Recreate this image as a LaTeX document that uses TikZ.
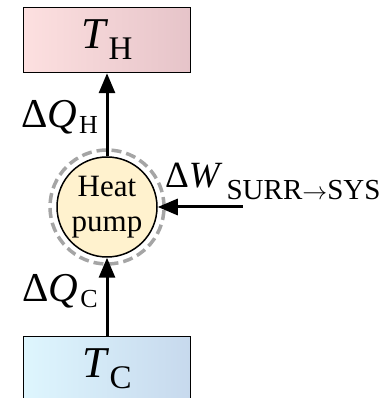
\documentclass[tikz,border=0pt]{standalone}
\usepackage{fontspec}
\setmainfont{Liberation Serif}
\usepackage{tikz}
\usetikzlibrary{arrows.meta, positioning}
\definecolor{hotleft}{RGB}{253, 224, 224}
\definecolor{hotright}{RGB}{230, 196, 201}
\definecolor{coldleft}{RGB}{222, 246, 254}
\definecolor{coldright}{RGB}{199, 217, 237}
\definecolor{pumpfill}{RGB}{255, 242, 206}
\definecolor{boundgray}{RGB}{165, 165, 165}
% lowered, smaller text after a symbol
\newcommand{\lowsub}[3]{\raisebox{-#1pt}{\fontsize{#2}{#2}\selectfont #3}}

\begin{document}
\begin{tikzpicture}[
        x=1pt, y=1pt,
        reservoir/.style={rectangle, draw=black, line width=1.5pt, inner sep=0pt, minimum width=167pt, minimum height=65pt, font=\fontsize{44}{44}\selectfont},
        pump/.style={circle, draw=black, line width=1.5pt, fill=pumpfill, inner sep=0pt, minimum size=100pt, align=center, font=\fontsize{31}{35}\selectfont},
        boundary/.style={circle, draw=boundgray, line width=3.5pt, dash pattern=on 10pt off 5pt, inner sep=0pt, minimum size=114pt},
        flow/.style={-{Triangle[length=20pt, width=16pt]}, line width=3pt},
        qlabel/.style={inner sep=0pt, font=\fontsize{41}{41}\selectfont}
    ]
        \useasboundingbox (0,0) rectangle (385,398);

        \node[reservoir, left color=hotleft, right color=hotright] (hot) at (107,358) {\textit{T}\lowsub{11}{33}{H}};
        \node[boundary, below=75pt of hot] (edge) {};
        \node[pump] (pump) at (edge) {Heat\\pump};
        \node[reservoir, left color=coldleft, right color=coldright, below=78pt of pump] (cold) {\textit{T}\lowsub{11}{33}{C}};
        \coordinate (work) at ([xshift=85pt]pump.east);

        \node[qlabel, anchor=base east] (qhot) at (98,270) {Δ\textit{Q}\kern2pt\lowsub{6}{26}{H}};
        \node[qlabel, anchor=base east] (qcold) at (98,96) {Δ\textit{Q}\kern2pt\lowsub{6}{26}{C}};
        \node[qlabel, anchor=base west, font=\fontsize{37}{37}\selectfont] (wlabel) at (165,210) {Δ\textit{W}\kern4pt\lowsub{12}{29}{SURR$\rightarrow$SYS}};

        \draw[flow] (pump) -- (hot);
        \draw[flow] (cold) -- (pump);
        \draw[flow] (work) -- (pump.east);
    \end{tikzpicture}
\end{document}
